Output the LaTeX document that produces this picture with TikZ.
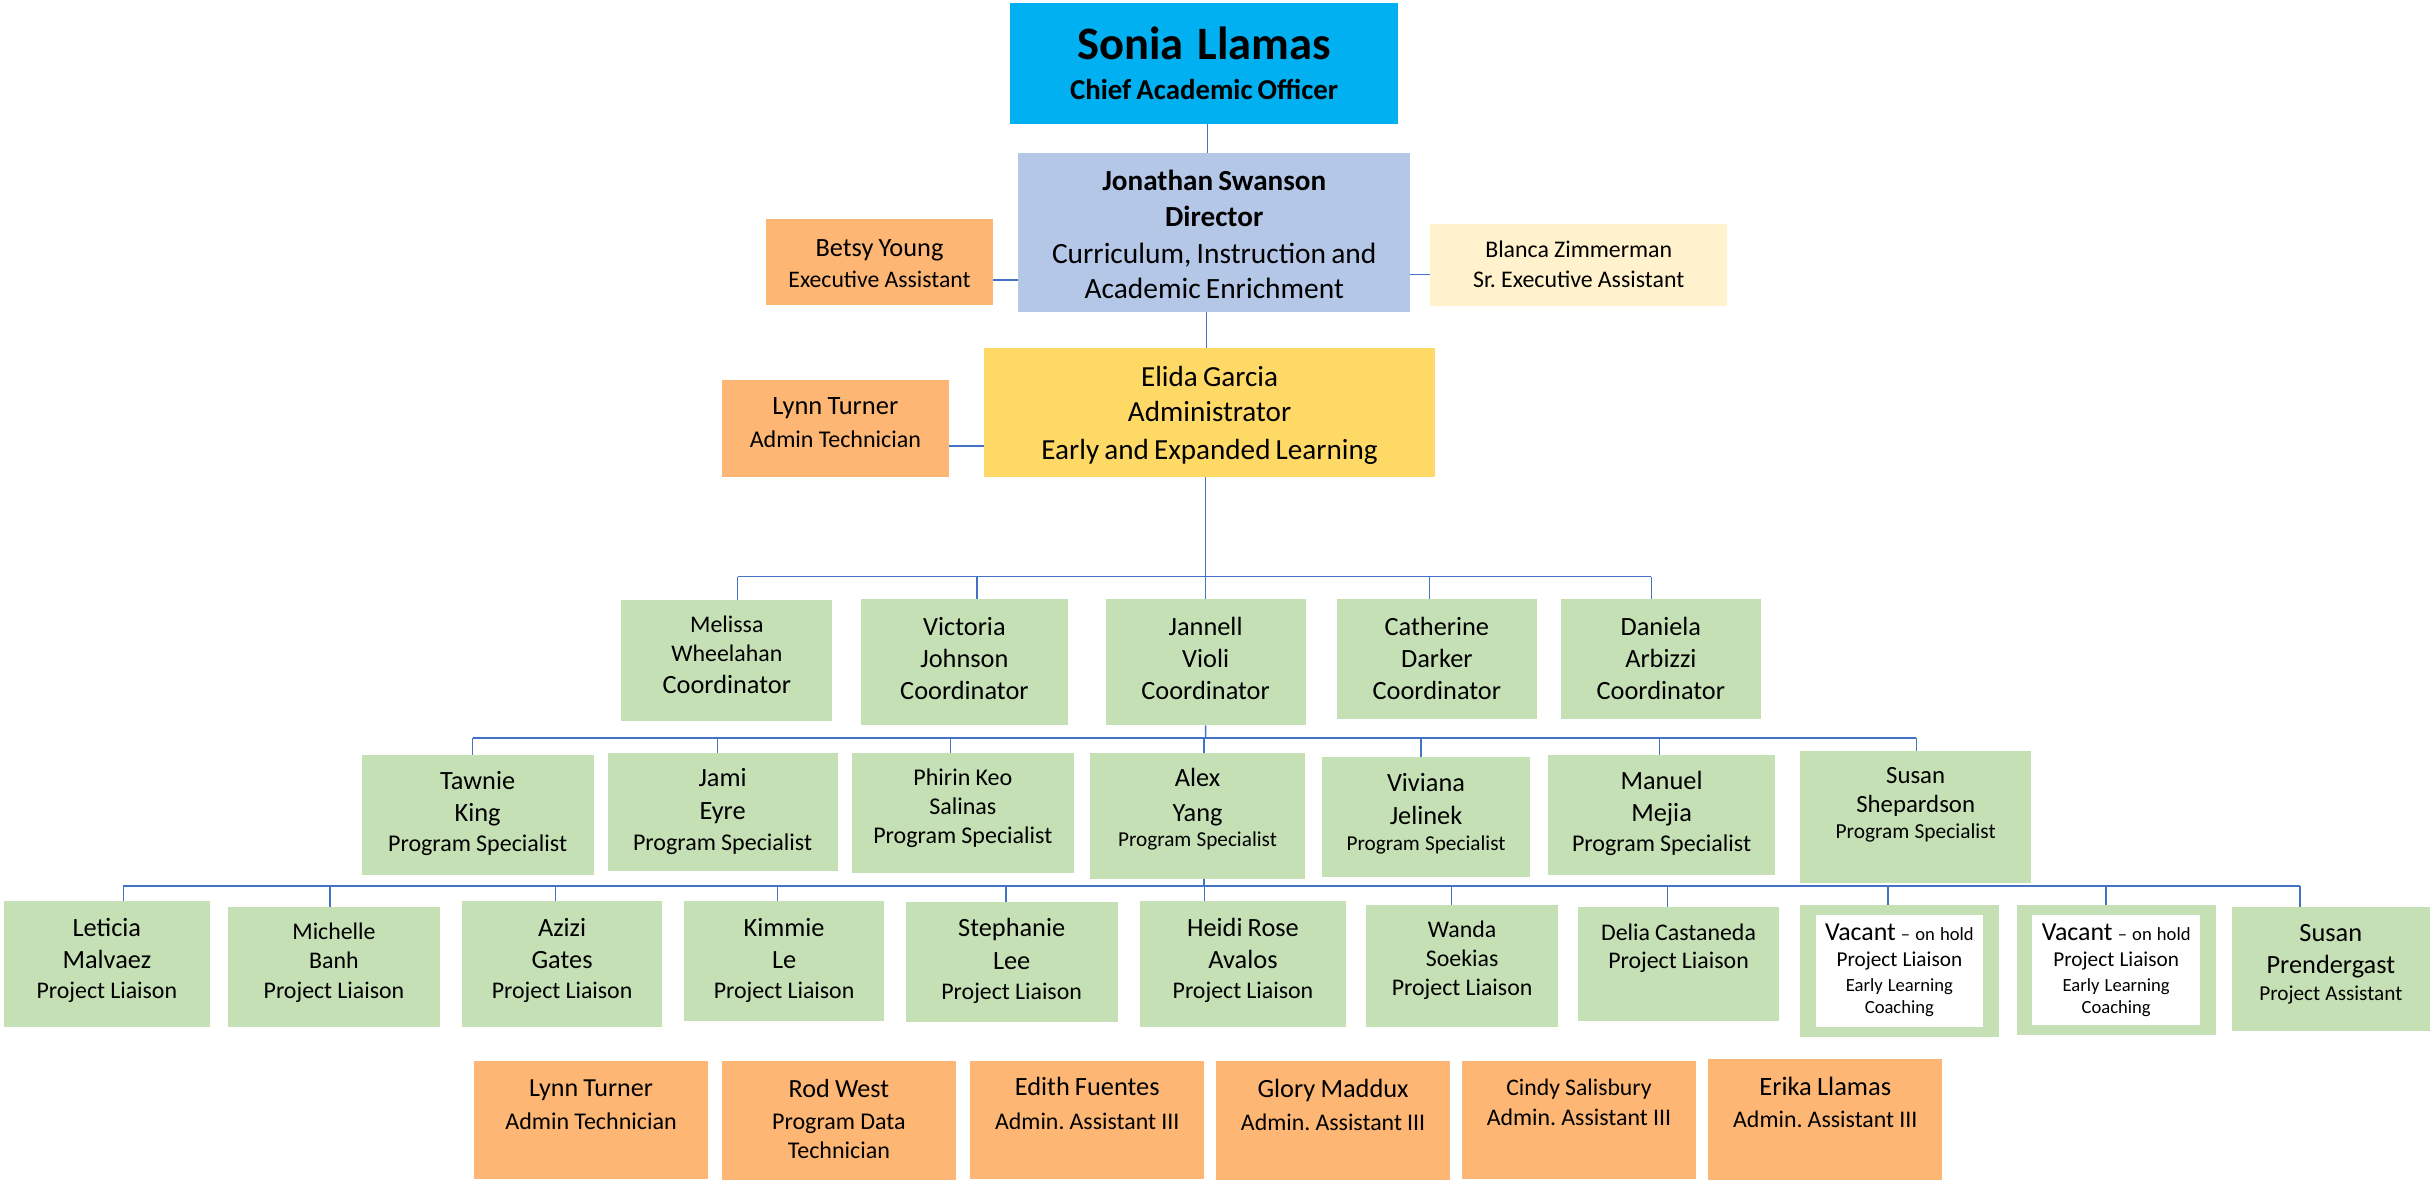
\documentclass[tikz,border=0pt]{standalone}
\usepackage{fontspec}
\setmainfont{Carlito}
\frenchspacing
\definecolor{cyanbox}{HTML}{00B0F0}
\definecolor{bluebox}{HTML}{B4C7E7}
\definecolor{orangebox}{HTML}{FDB673}
\definecolor{creambox}{HTML}{FFF2CC}
\definecolor{yellowbox}{HTML}{FFD966}
\definecolor{greenbox}{HTML}{C5E0B4}
\definecolor{conncol}{HTML}{4472C4}
\newcommand\Ln[3]{{\fontsize{#1}{#2}\selectfont #3\par}}
\newcommand\orgbox[8]{%
  \node[box,#6,minimum width={#4-#2},minimum height={#5-#3}] (#1) at ({(#2+#4)/2},{(#3+#5)/2}) {};
  \node[txt,text width={#4-#2}] (#1-t) at ({(#2+#4)/2},#7) {#8};}
\tikzset{
  box/.style={rectangle,draw=none,inner sep=0pt,outer sep=0pt},
  txt/.style={inner sep=0pt,outer sep=0pt,anchor=base,align=center,
    execute at begin node={\setlength\parskip{0pt}\setlength\parindent{0pt}\frenchspacing}},
  conn/.style={draw=conncol,line width=0.9pt},
  busline/.style={draw=conncol,line width=1.2pt},
  gr/.style={fill=greenbox},
  orr/.style={fill=orangebox}
}
\begin{document}
\begin{tikzpicture}[x=1pt,y=-1pt]
\fill[white] (0,0) rectangle (1568,763);
\useasboundingbox (0,0) rectangle (1568,763);

% top levels
\orgbox{sonia}{652}{2}{902}{80}{fill=cyanbox}{38.7}{\Ln{30}{30}{\bfseries Sonia\hspace{0.3em}Llamas}\Ln{18.6}{25.4}{\bfseries Chief Academic Officer}}
\orgbox{jonathan}{657}{99}{910}{201}{fill=bluebox}{123}{\Ln{18.8}{23}{\bfseries Jonathan Swanson}\Ln{18.8}{23.3}{\bfseries Director}\Ln{19}{23.6}{Curriculum, Instruction and}\Ln{19}{22.6}{Academic Enrichment}}
\orgbox{betsy}{494.2}{141.3}{640.8}{196.6}{orr}{165.2}{\Ln{17}{17}{Betsy Young}\Ln{15.3}{20.4}{Executive Assistant}}
\orgbox{blanca}{922.8}{144.5}{1114.6}{197.3}{fill=creambox}{166}{\Ln{15.4}{15.4}{Blanca Zimmerman}\Ln{15.4}{19.6}{Sr. Executive Assistant}}
\orgbox{elida}{635}{224.7}{926}{307.6}{fill=yellowbox}{249.5}{\Ln{18.8}{18.8}{Elida Garcia}\Ln{18.8}{22.6}{Administrator}\Ln{18.8}{24.7}{Early and Expanded Learning}}
\orgbox{lynnA}{465.7}{245.2}{612.4}{308}{orr}{267.4}{\Ln{17.1}{17}{Lynn Turner}\Ln{15.5}{21.3}{Admin Technician}}

% coordinators
\orgbox{melissa}{401}{387}{537}{465}{gr}{408.3}{\Ln{15.4}{15.4}{Melissa}\Ln{15.4}{18.7}{Wheelahan}\Ln{17}{20.4}{Coordinator}}
\orgbox{victoria}{555.6}{386.5}{689}{468}{gr}{409.8}{\Ln{17}{17}{Victoria}\Ln{17}{20.8}{Johnson}\Ln{17}{20.7}{Coordinator}}
\orgbox{jannell}{713.5}{386.5}{842.4}{468}{gr}{409.8}{\Ln{17}{17}{Jannell}\Ln{17}{20.8}{Violi}\Ln{17}{20.7}{Coordinator}}
\orgbox{catherine}{862.8}{386.5}{991.5}{464}{gr}{409.8}{\Ln{17}{17}{Catherine}\Ln{17}{20.8}{Darker}\Ln{17}{20.7}{Coordinator}}
\orgbox{daniela}{1007}{386.5}{1136.4}{464}{gr}{409.8}{\Ln{17}{17}{Daniela}\Ln{17}{20.8}{Arbizzi}\Ln{17}{20.7}{Coordinator}}

% program specialists
\orgbox{tawnie}{233.4}{487}{383}{564.6}{gr}{509.4}{\Ln{17}{17}{Tawnie}\Ln{17}{20.8}{King}\Ln{15.5}{19.4}{Program Specialist}}
\orgbox{jami}{392}{486}{540.5}{562}{gr}{507.6}{\Ln{17}{17}{Jami}\Ln{17}{21.5}{Eyre}\Ln{15.5}{19.4}{Program Specialist}}
\orgbox{phirin}{549.6}{486}{693}{563}{gr}{507}{\Ln{15.5}{15.5}{Phirin Keo}\Ln{15.5}{18.5}{Salinas}\Ln{15.5}{18.7}{Program Specialist}}
\orgbox{alex}{703.4}{486}{842}{567}{gr}{507.6}{\Ln{17}{17}{Alex}\Ln{17}{22.6}{Yang}\Ln{13.7}{16.2}{Program Specialist}}
\orgbox{viviana}{853}{488.5}{987.3}{566}{gr}{510.4}{\Ln{17}{17}{Viviana}\Ln{17}{21.5}{Jelinek}\Ln{13.7}{16.6}{Program Specialist}}
\orgbox{manuel}{998.7}{487}{1145.6}{564.6}{gr}{509.4}{\Ln{17}{17}{Manuel}\Ln{17}{20.8}{Mejia}\Ln{15.5}{19.4}{Program Specialist}}
\orgbox{susanS}{1161.6}{484.6}{1310.6}{569.8}{gr}{505.5}{\Ln{16}{16}{Susan}\Ln{16}{18.7}{Shepardson}\Ln{13.8}{16.8}{Program Specialist}}

% project liaisons
\orgbox{leticia}{2.6}{581.4}{135.3}{662.5}{gr}{604.4}{\Ln{17}{17}{Leticia}\Ln{17}{20.4}{Malvaez}\Ln{15.4}{19.4}{Project Liaison}}
\orgbox{michelle}{147}{585.3}{284}{662.5}{gr}{606.1}{\Ln{15.4}{15.4}{Michelle}\Ln{15.4}{19}{Banh}\Ln{15.4}{19.1}{Project Liaison}}
\orgbox{azizi}{298.4}{581.4}{427}{662.5}{gr}{604}{\Ln{17}{17}{Azizi}\Ln{17}{20.8}{Gates}\Ln{15.4}{19.4}{Project Liaison}}
\orgbox{kimmie}{441.4}{581.4}{570.5}{658.6}{gr}{604}{\Ln{17}{17}{Kimmie}\Ln{17}{20.8}{Le}\Ln{15.4}{19.4}{Project Liaison}}
\orgbox{stephanie}{584.4}{582}{721.2}{659.3}{gr}{604.4}{\Ln{17}{17}{Stephanie}\Ln{17}{21.1}{Lee}\Ln{15.4}{19.3}{Project Liaison}}
\orgbox{heidi}{735.6}{581.4}{868.5}{662.5}{gr}{604}{\Ln{17}{17}{Heidi Rose}\Ln{17}{20.8}{Avalos}\Ln{15.4}{19.4}{Project Liaison}}
\orgbox{wanda}{881.7}{584}{1005.2}{662.5}{gr}{605.1}{\Ln{15.4}{15.4}{Wanda}\Ln{15.4}{18.7}{Soekias}\Ln{15.4}{18.3}{Project Liaison}}
\orgbox{delia}{1018.3}{585.3}{1147.9}{658.6}{gr}{606.6}{\Ln{15.4}{15.4}{Delia Castaneda}\Ln{15.4}{18.2}{Project Liaison}}
\node[box,gr,minimum width={1290.1-1161.5},minimum height={669-584}] (vacantA) at ({(1161.5+1290.1)/2},{(584+669)/2}) {};
\orgbox{vacantA-in}{1171.7}{590.4}{1279.5}{662.5}{fill=white}{606.6}{\Ln{16.7}{16.7}{Vacant {\fontsize{12}{14}\selectfont – on hold}}\Ln{13.7}{17.2}{Project Liaison}\Ln{12}{15.7}{Early Learning}\Ln{12}{14.4}{Coaching}}
\node[box,gr,minimum width={1429.8-1301.3},minimum height={667.7-584}] (vacantB) at ({(1301.3+1429.8)/2},{(584+667.7)/2}) {};
\orgbox{vacantB-in}{1311.4}{590.4}{1419.6}{661.4}{fill=white}{606.6}{\Ln{16.7}{16.7}{Vacant {\fontsize{12}{14}\selectfont – on hold}}\Ln{13.7}{17.2}{Project Liaison}\Ln{12}{15.7}{Early Learning}\Ln{12}{14.4}{Coaching}}
\orgbox{susanP}{1440}{585.3}{1568}{665.1}{gr}{607.7}{\Ln{17}{17}{Susan}\Ln{17}{20.4}{Prendergast}\Ln{13.7}{17.6}{Project Assistant}}

% bottom row
\orgbox{lynnB}{305.8}{684.7}{457}{760.6}{orr}{707.7}{\Ln{16.8}{16.8}{Lynn Turner}\Ln{15.5}{21.1}{Admin Technician}}
\orgbox{rod}{465.7}{684.7}{616.9}{761.5}{orr}{708.1}{\Ln{16.9}{16.9}{Rod West}\Ln{15.5}{20.7}{Program Data}\Ln{15.5}{18.7}{Technician}}
\orgbox{edith}{626.2}{684.7}{776.9}{760.6}{orr}{707.2}{\Ln{17}{17}{Edith Fuentes}\Ln{15.4}{21.6}{Admin. Assistant III}}
\orgbox{glory}{784.9}{684.7}{935.5}{761.5}{orr}{708.1}{\Ln{17}{17}{Glory Maddux}\Ln{15.4}{21.1}{Admin. Assistant III}}
\orgbox{cindy}{943.5}{684.7}{1094.2}{760.6}{orr}{706.6}{\Ln{15.3}{15.3}{Cindy Salisbury}\Ln{15.4}{19.8}{Admin. Assistant III}}
\orgbox{erika}{1102.2}{683.4}{1253.4}{761.5}{orr}{706.6}{\Ln{17.1}{17.1}{Erika Llamas}\Ln{15.4}{20.9}{Admin. Assistant III}}

% connectors, top
\draw[conn] ([xshift=2pt]sonia.south) -- ([xshift=2pt]sonia.south |- jonathan.north);
\draw[conn] ([xshift=-5pt]jonathan.south) -- ([xshift=-5pt]jonathan.south |- elida.north);
\draw[conn] ([yshift=-11.75pt]betsy.east) -- ([yshift=-11.75pt]betsy.east -| jonathan.west);
\draw[conn] ([yshift=-6.1pt]blanca.west) -- ([yshift=-6.1pt]blanca.west -| jonathan.east);
\draw[conn] ([yshift=-11.2pt]lynnA.east) -- ([yshift=-11.2pt]lynnA.east -| elida.west);

% coordinator bus
\coordinate (bus1) at (778,372);
\draw[conn] ([xshift=-2.5pt]elida.south) -- (bus1);
\draw[conn] ([xshift=7pt]melissa.north |- bus1) -- ([xshift=-6.2pt]daniela.north |- bus1);
\foreach \n/\s in {melissa/7,victoria/8.2,jannell/0,catherine/-4.8,daniela/-6.2}
  \draw[conn] ([xshift=\s pt]\n.north |- bus1) -- ([xshift=\s pt]\n.north);

% program specialist bus
\coordinate (bus2) at (778,476);
\draw[conn] (jannell.south) -- (bus2);
\draw[busline] ([xshift=-3.2pt]tawnie.north |- bus2) -- ([xshift=0.5pt]susanS.north |- bus2);
\foreach \n/\s in {tawnie/-3.2,jami/-3.3,phirin/-8.1,alex/4.3,viviana/-3.2,manuel/-1.3,susanS/0.5}
  \draw[conn] ([xshift=\s pt]\n.north |- bus2) -- ([xshift=\s pt]\n.north);

% project liaison bus
\coordinate (bus3) at (777,571.5);
\draw[conn] ([xshift=4.3pt]alex.south) -- (bus3);
\draw[busline] ([xshift=10.7pt]leticia.north |- bus3) -- ([xshift=-20pt]susanP.north |- bus3);
\foreach \n/\s in {leticia/10.7,michelle/-2.5,azizi/-4.1,kimmie/-4.4,stephanie/-3.6,heidi/-25,wanda/-6.7,delia/-7.1,vacantA/-7.5,vacantB/-6.6,susanP/-20}
  \draw[conn] ([xshift=\s pt]\n.north |- bus3) -- ([xshift=\s pt]\n.north);
\end{tikzpicture}
\end{document}
